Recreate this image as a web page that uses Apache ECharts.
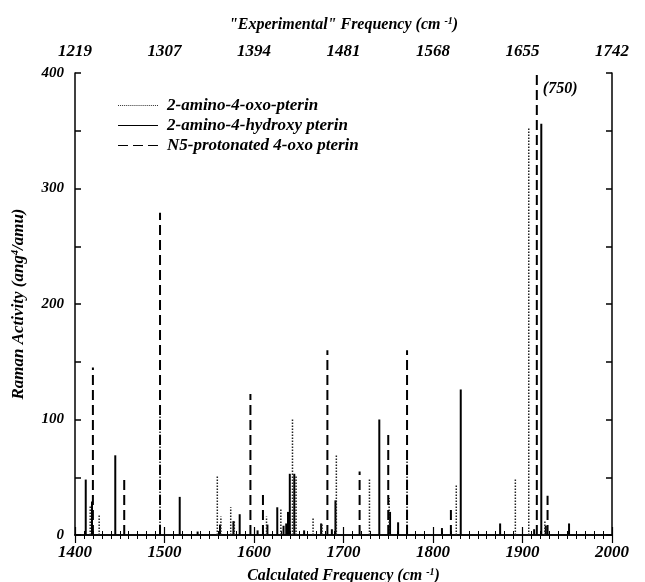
<!DOCTYPE html>
<html>
<head>
<meta charset="utf-8">
<script src="https://cdn.jsdelivr.net/npm/echarts@6/dist/echarts.min.js"></script>
<style>
  html, body { margin: 0; padding: 0; background: #fff; }
  #chart { width: 645px; height: 582px; }
</style>
</head>
<body>
<div id="chart"></div>
<script>
// calculated frequency (cm-1) and Raman activity for each species
var oxoFreq = [1417, 1427, 1495, 1559, 1563, 1574, 1578, 1614, 1630, 1643, 1647, 1666, 1676, 1692, 1729, 1751, 1771, 1826, 1892, 1907, 1925]
var oxoAct = [25, 18, 103, 52, 16, 24, 12, 16, 22, 100, 51, 15, 10, 70, 49, 32, 65, 43, 48, 353, 12]

var hydroxyFreq = [1412, 1419, 1445, 1517, 1537, 1562, 1577, 1584, 1604, 1615, 1626, 1633, 1636, 1638, 1640, 1645, 1656, 1675, 1687, 1691, 1740, 1752, 1761, 1810, 1831, 1875, 1913, 1921, 1926, 1952]
var hydroxyAct = [48, 29, 69, 33, 3, 9, 12, 18, 4, 9, 24, 8, 10, 20, 53, 53, 4, 10, 5, 30, 100, 20, 11, 6, 126, 10, 5, 356, 8, 10]

var n5Freq = [1420, 1455, 1495, 1596, 1610, 1682, 1718, 1750, 1771, 1820, 1916, 1928]
var n5Act = [145, 52, 279, 122, 37, 160, 55, 90, 160, 25, 750, 34]

var bottomTicks = [1400, 1500, 1600, 1700, 1800, 1900, 2000]
var topTickLabels = ['1219', '1307', '1394', '1481', '1568', '1655', '1742']

var yMax = 400
var FONT = '"Liberation Serif", "DejaVu Serif", serif'

function pairs(xs, ys) {
  return xs.map(function (x, i) { return [x, ys[i]] })
}

// draw a vertical stick from 0 up to the value (clipped at the top of the plot)
function stick(style) {
  return function (params, api) {
    var x = api.value(0)
    var v = Math.min(api.value(1), yMax)
    var p0 = api.coord([x, 0])
    var p1 = api.coord([x, v])
    return {
      type: 'line',
      shape: { x1: p0[0], y1: p0[1], x2: p1[0], y2: p1[1] },
      style: style
    }
  }
}

function font(size) {
  return { fontFamily: FONT, fontStyle: 'italic', fontWeight: 'bold', fontSize: size, color: '#000' }
}

var nameRich = {
  sup: Object.assign(font(10), { verticalAlign: 'top', padding: [0, 0, 8, 0] })
}

function xAxisBase() {
  return {
    type: 'value',
    min: 1400,
    max: 2000,
    interval: 100,
    axisLine: { lineStyle: { color: '#000', width: 1.5 } },
    axisTick: { inside: true, length: 8, lineStyle: { color: '#000', width: 1.2 } },
    minorTick: { show: true, splitNumber: 10, length: 4, lineStyle: { color: '#000', width: 1 } },
    splitLine: { show: false },
    minorSplitLine: { show: false }
  }
}

var bottomX = xAxisBase()
bottomX.position = 'bottom'
bottomX.axisLabel = Object.assign({ margin: 9, formatter: function (v) { return String(v) } }, font(17))
bottomX.name = 'Calculated Frequency (cm {sup|-1})'
bottomX.nameLocation = 'middle'
bottomX.nameGap = 32
bottomX.nameTextStyle = Object.assign(font(16), { rich: nameRich })

var topX = xAxisBase()
topX.position = 'top'
topX.axisLabel = Object.assign({
  margin: 13,
  formatter: function (v) {
    var i = bottomTicks.indexOf(v)
    return i >= 0 ? topTickLabels[i] : ''
  }
}, font(17))
topX.name = '"Experimental" Frequency (cm {sup|-1})'
topX.nameLocation = 'middle'
topX.nameGap = 39
topX.nameTextStyle = Object.assign(font(16), { rich: nameRich })

function yAxisBase() {
  return {
    type: 'value',
    min: 0,
    max: yMax,
    interval: 100,
    axisLine: { show: true, lineStyle: { color: '#000', width: 1.5 } },
    axisTick: { show: true, inside: true, length: 6, lineStyle: { color: '#000', width: 1.5 } },
    minorTick: { show: true, splitNumber: 2, length: 6, lineStyle: { color: '#000', width: 1.5 } },
    splitLine: { show: false },
    minorSplitLine: { show: false }
  }
}

var leftY = yAxisBase()
leftY.position = 'left'
leftY.axisLabel = Object.assign({ margin: 11 }, font(15))
leftY.name = 'Raman Activity (ang{sup|4}/amu)'
leftY.nameLocation = 'middle'
leftY.nameGap = 47
leftY.nameTextStyle = Object.assign(font(17), { rich: nameRich })

var rightY = yAxisBase()
rightY.position = 'right'
rightY.axisLabel = { show: false }

var dotIcon = 'path://' + Array.from({ length: 20 }, function (_, i) { return 'M' + (i * 2) + ',0h1v1h-1z' }).join('')
var solidIcon = 'path://M0,0h40v1h-40z'
var dashIcon = 'path://M0,0h10v1h-10zM15,0h10v1h-10zM30,0h10v1h-10z'

var option = {
  animation: false,
  backgroundColor: '#fff',
  grid: { left: 75, right: 33, top: 73, bottom: 47, containLabel: false, outerBoundsMode: 'none' },
  xAxis: [bottomX, topX],
  yAxis: [leftY, rightY],
  legend: {
    orient: 'vertical',
    left: 113,
    top: 92,
    itemWidth: 40,
    itemHeight: 2,
    itemGap: 3,
    textStyle: Object.assign(font(17), { lineHeight: 17, padding: [0, 0, 0, 4] }),
    data: [
      { name: '2-amino-4-oxo-pterin', icon: dotIcon, itemStyle: { color: '#333' } },
      { name: '2-amino-4-hydroxy pterin', icon: solidIcon, itemStyle: { color: '#000' } },
      { name: 'N5-protonated 4-oxo pterin', icon: dashIcon, itemStyle: { color: '#000' } }
    ]
  },
  series: [
    {
      name: '2-amino-4-oxo-pterin',
      type: 'custom',
      itemStyle: { color: '#333' },
      encode: { x: 0, y: 1 },
      data: pairs(oxoFreq, oxoAct),
      renderItem: stick({ stroke: '#222', lineWidth: 1.5, lineDash: [1.5, 1.5] }),
      z: 3
    },
    {
      name: '2-amino-4-hydroxy pterin',
      type: 'custom',
      itemStyle: { color: '#000' },
      encode: { x: 0, y: 1 },
      data: pairs(hydroxyFreq, hydroxyAct),
      renderItem: stick({ stroke: '#000', lineWidth: 2 }),
      z: 2
    },
    {
      name: 'N5-protonated 4-oxo pterin',
      type: 'custom',
      itemStyle: { color: '#000' },
      encode: { x: 0, y: 1 },
      data: pairs(n5Freq, n5Act),
      renderItem: stick({ stroke: '#000', lineWidth: 2, lineDash: [10, 5] }),
      markPoint: {
        symbol: 'rect',
        symbolSize: 0,
        data: [{ coord: [1916, 386], value: '(750)' }],
        label: Object.assign({
          show: true,
          position: 'right',
          distance: 6,
          formatter: '(750)'
        }, font(16))
      },
      z: 4
    }
  ]
}

var myChart = echarts.init(document.getElementById('chart'))
myChart.setOption(option)
</script>
</body>
</html>
